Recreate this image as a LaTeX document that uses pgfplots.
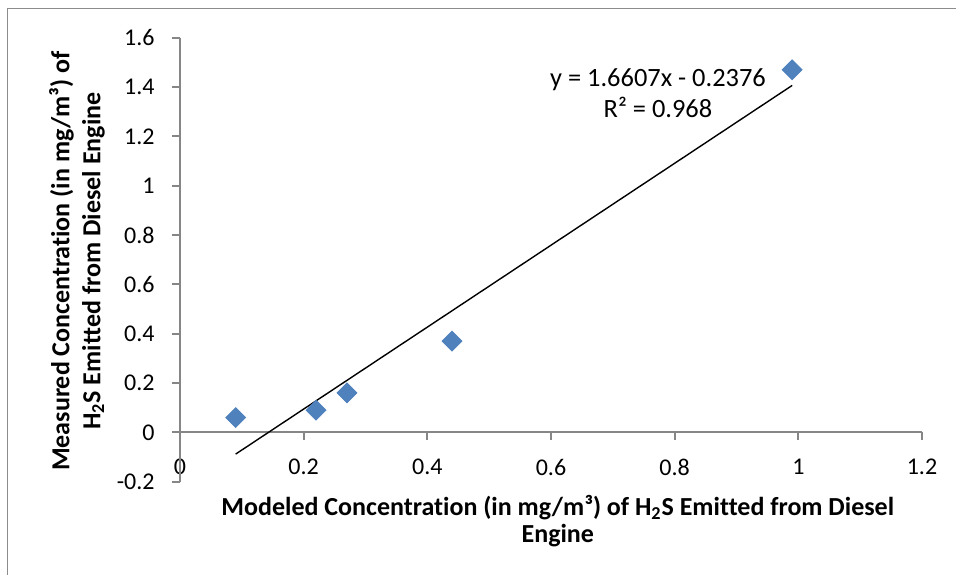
\documentclass[border=0pt]{standalone}
\usepackage{fontspec}
\setmainfont{Carlito}[Ligatures=NoCommon]
\usepackage{pgfplots}
\pgfplotsset{compat=1.18}
\definecolor{ptblue}{HTML}{4F81BD}
\definecolor{axgray}{HTML}{868686}
\definecolor{framegray}{HTML}{8C8C8C}
\begin{document}
\begin{tikzpicture}
\begin{axis}[
  at={(0,0)}, anchor=south west,
  scale only axis, width=371pt, height=222pt,
  xmin=0, xmax=1.2, ymin=-0.2, ymax=1.6,
  clip=false,
  axis line style={draw=none},
  major tick length=0pt,
  xtick={0,0.2,0.4,0.6,0.8,1,1.2},
  xticklabels={0,0.2,0.4,0.6,0.8,1,1.2},
  ytick={-0.2,0,0.2,0.4,0.6,0.8,1,1.2,1.4,1.6},
  yticklabels={-0.2,0,0.2,0.4,0.6,0.8,1,1.2,1.4,1.6},
  ticklabel style={font=\fontsize{12}{14}\selectfont, inner sep=0pt},
  xticklabel style={anchor=center, yshift=7.35pt},
  yticklabel style={anchor=east, xshift=-12.5pt},
]
% axis lines and ticks
\draw[axgray, line width=0.9pt] (axis cs:0,-0.2) -- (axis cs:0,1.6);
\draw[axgray, line width=0.9pt] (axis cs:0,0) -- (axis cs:1.2,0);
\draw[axgray, line width=0.9pt] (axis cs:0,-0.2) -- ([xshift=-4pt]axis cs:0,-0.2);
\draw[axgray, line width=0.9pt] (axis cs:0,0) -- ([xshift=-4pt]axis cs:0,0);
\draw[axgray, line width=0.9pt] (axis cs:0,0.2) -- ([xshift=-4pt]axis cs:0,0.2);
\draw[axgray, line width=0.9pt] (axis cs:0,0.4) -- ([xshift=-4pt]axis cs:0,0.4);
\draw[axgray, line width=0.9pt] (axis cs:0,0.6) -- ([xshift=-4pt]axis cs:0,0.6);
\draw[axgray, line width=0.9pt] (axis cs:0,0.8) -- ([xshift=-4pt]axis cs:0,0.8);
\draw[axgray, line width=0.9pt] (axis cs:0,1) -- ([xshift=-4pt]axis cs:0,1);
\draw[axgray, line width=0.9pt] (axis cs:0,1.2) -- ([xshift=-4pt]axis cs:0,1.2);
\draw[axgray, line width=0.9pt] (axis cs:0,1.4) -- ([xshift=-4pt]axis cs:0,1.4);
\draw[axgray, line width=0.9pt] (axis cs:0,1.6) -- ([xshift=-4pt]axis cs:0,1.6);
\draw[axgray, line width=0.9pt] (axis cs:0.2,0) -- ([yshift=-4pt]axis cs:0.2,0);
\draw[axgray, line width=0.9pt] (axis cs:0.4,0) -- ([yshift=-4pt]axis cs:0.4,0);
\draw[axgray, line width=0.9pt] (axis cs:0.6,0) -- ([yshift=-4pt]axis cs:0.6,0);
\draw[axgray, line width=0.9pt] (axis cs:0.8,0) -- ([yshift=-4pt]axis cs:0.8,0);
\draw[axgray, line width=0.9pt] (axis cs:1,0) -- ([yshift=-4pt]axis cs:1,0);
\draw[axgray, line width=0.9pt] (axis cs:1.2,0) -- ([yshift=-4pt]axis cs:1.2,0);
% trendline
\addplot[black, line width=0.7pt, no marks] coordinates {(0.09,-0.0881) (0.99,1.4065)};
% data
\addplot[only marks, mark=square*, mark size=3.5pt, mark options={rotate=45, fill=ptblue, draw=ptblue}]
  coordinates {(0.09,0.06) (0.22,0.09) (0.27,0.16) (0.44,0.37) (0.99,1.47)};
% equation
\node[align=center, font=\fontsize{13.2}{15.5}\selectfont] at (axis cs:0.773,1.377)
  {y = 1.6607x - 0.2376\\R² = 0.968};
% axis titles
\node[align=center, font=\fontsize{13}{13.5}\selectfont\bfseries] at (axis cs:0.611,-0.359)
  {Modeled Concentration (in mg/m³) of H\textsubscript{2}S Emitted from Diesel\\Engine};
\node[align=center, rotate=90, font=\fontsize{13}{15.5}\selectfont\bfseries] at (axis cs:-0.1666,0.694)
  {Measured Concentration (in mg/m³) of\\H\textsubscript{2}S Emitted from Diesel Engine};
\end{axis}
\pgfresetboundingbox
\path[use as bounding box] (-90pt,-46.65pt) rectangle (388pt,240.85pt);
\draw[framegray, line width=0.65pt] (-86.25pt,-46.65pt) -- (-86.25pt,236.6pt) -- (388pt,236.6pt);
\end{tikzpicture}
\end{document}
